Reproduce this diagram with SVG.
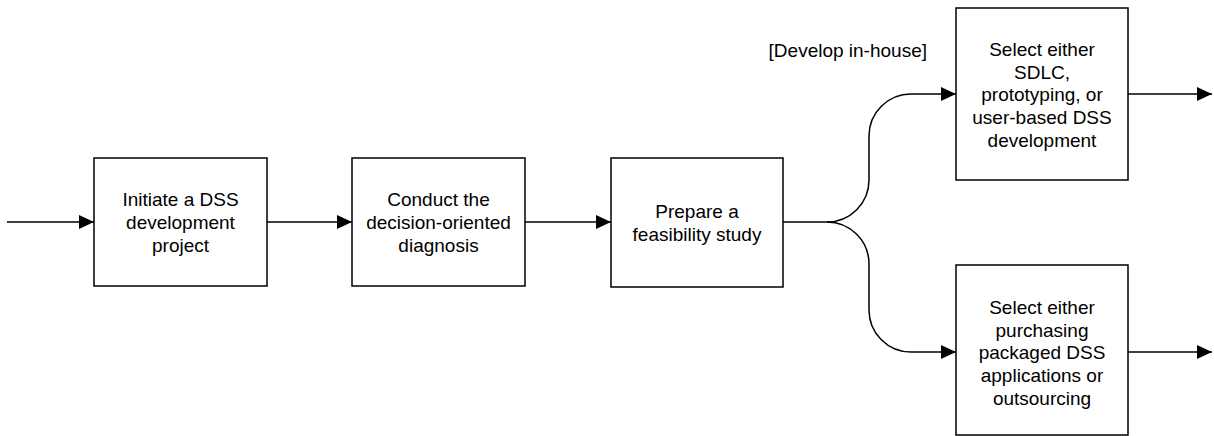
<svg xmlns="http://www.w3.org/2000/svg" width="1214" height="436" viewBox="0 0 1214 436">
<style>
.box{fill:#fff;stroke:#000;stroke-width:1.5}
.t{font-family:"Liberation Sans",Arial,sans-serif;font-size:19px;fill:#000;text-anchor:middle}
.c{fill:none;stroke:#000;stroke-width:1.5}
</style>
<defs>
<marker id="ah" markerWidth="15" markerHeight="14" refX="15" refY="7" orient="auto" markerUnits="userSpaceOnUse">
<path d="M0,0 L15,7 L0,14 Z" fill="#000"/>
</marker>
</defs>
<rect width="1214" height="436" fill="#fff"/>
<g id="connectors">
<line class="c" x1="7" y1="222" x2="94" y2="222" marker-end="url(#ah)"/>
<line class="c" x1="267" y1="222" x2="352" y2="222" marker-end="url(#ah)"/>
<line class="c" x1="525" y1="222" x2="611" y2="222" marker-end="url(#ah)"/>
<path class="c" d="M783,222 H827 A42,42 0 0 0 869,180 V136 A42,42 0 0 1 911,94 H956" marker-end="url(#ah)"/>
<path class="c" d="M827,222 A42,42 0 0 1 869,264 V310 A42,42 0 0 0 911,352 H956" marker-end="url(#ah)"/>
<line class="c" x1="1128" y1="94" x2="1212" y2="94" marker-end="url(#ah)"/>
<line class="c" x1="1128" y1="352" x2="1212" y2="352" marker-end="url(#ah)"/>
<text class="t" x="927" y="57" style="text-anchor:end">[Develop in-house]</text>
</g>
<g id="n1">
<rect class="box" x="94" y="158" width="173" height="128"/>
<text class="t" x="180.5" y="206">Initiate a DSS</text>
<text class="t" x="180.5" y="229">development</text>
<text class="t" x="180.5" y="252">project</text>
</g>
<g id="n2">
<rect class="box" x="352" y="158" width="173" height="128"/>
<text class="t" x="438.5" y="206">Conduct the</text>
<text class="t" x="438.5" y="229">decision-oriented</text>
<text class="t" x="438.5" y="252">diagnosis</text>
</g>
<g id="n3">
<rect class="box" x="611" y="158" width="172" height="129"/>
<text class="t" x="697" y="218">Prepare a</text>
<text class="t" x="697" y="241">feasibility study</text>
</g>
<g id="n4">
<rect class="box" x="956" y="8" width="172" height="172"/>
<text class="t" x="1042" y="55.5">Select either</text>
<text class="t" x="1042" y="78.5">SDLC,</text>
<text class="t" x="1042" y="101">prototyping, or</text>
<text class="t" x="1042" y="124">user-based DSS</text>
<text class="t" x="1042" y="147">development</text>
</g>
<g id="n5">
<rect class="box" x="956" y="265" width="172" height="170"/>
<text class="t" x="1042" y="313.5">Select either</text>
<text class="t" x="1042" y="336.5">purchasing</text>
<text class="t" x="1042" y="359">packaged DSS</text>
<text class="t" x="1042" y="382">applications or</text>
<text class="t" x="1042" y="405">outsourcing</text>
</g>
</svg>
